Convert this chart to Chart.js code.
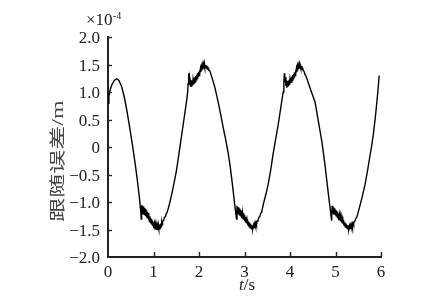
<!DOCTYPE html>
<html><head><meta charset="utf-8">
<script src="https://cdn.jsdelivr.net/npm/chart.js@4"></script>
<style>html,body{margin:0;padding:0;background:#fff;} canvas{display:block;}</style>
</head><body>
<canvas id="c" width="443" height="296"></canvas>
<script>
// tick labels
const xTicks = [0, 1, 2, 3, 4, 5, 6];
const yTicks = [-2.0, -1.5, -1.0, -0.5, 0, 0.5, 1.0, 1.5, 2.0];
// tracking error (unit: 1e-4 m) vs time t (s), [t, value]
const segStart = [[0.00,0.80],[0.02,0.92],[0.05,1.05],[0.09,1.14],[0.14,1.21],[0.19,1.24],[0.24,1.21],[0.30,1.10],[0.36,0.90],[0.42,0.64],[0.48,0.34],[0.54,0.02],[0.60,-0.32],[0.65,-0.64],[0.69,-0.92],[0.72,-1.18],[0.73,-1.31]];
const bandA = [[0.740,-1.06],[0.750,-1.20],[0.760,-1.07],[0.770,-1.21],[0.780,-1.08],[0.790,-1.22],[0.800,-1.11],[0.810,-1.24],[0.820,-1.13],[0.830,-1.26],[0.840,-1.15],[0.850,-1.28],[0.860,-1.18],[0.870,-1.30],[0.880,-1.20],[0.890,-1.32],[0.900,-1.23],[0.910,-1.35],[0.920,-1.26],[0.930,-1.37],[0.940,-1.29],[0.950,-1.39],[0.960,-1.31],[0.970,-1.41],[0.980,-1.34],[0.990,-1.43],[1.000,-1.37],[1.010,-1.46],[1.020,-1.39],[1.030,-1.48],[1.040,-1.41],[1.050,-1.50],[1.060,-1.43],[1.070,-1.51],[1.080,-1.44],[1.090,-1.51],[1.100,-1.44],[1.110,-1.50],[1.120,-1.43],[1.130,-1.49],[1.140,-1.41],[1.150,-1.47],[1.160,-1.39],[1.170,-1.44],[1.180,-1.37],[1.190,-1.41],[1.200,-1.35],[1.220,-1.34],[1.240,-1.28],[1.260,-1.27],[1.280,-1.21],[1.300,-1.19]];
const riseA = [[1.35,-1.04],[1.40,-0.86],[1.45,-0.66],[1.50,-0.45],[1.56,-0.12],[1.62,0.22],[1.66,0.45],[1.70,0.68],[1.735,0.88],[1.75,1.00],[1.76,1.15],[1.765,1.34]];
const bandB = [[1.770,1.26],[1.775,1.30],[1.780,1.18],[1.790,1.27],[1.800,1.12],[1.810,1.22],[1.820,1.09],[1.830,1.20],[1.840,1.10],[1.850,1.21],[1.860,1.12],[1.870,1.23],[1.880,1.14],[1.890,1.25],[1.900,1.17],[1.910,1.27],[1.920,1.19],[1.930,1.29],[1.940,1.22],[1.950,1.32],[1.960,1.25],[1.970,1.34],[1.980,1.28],[1.990,1.37],[2.000,1.30],[2.010,1.39],[2.020,1.33],[2.030,1.42],[2.040,1.36],[2.050,1.44],[2.060,1.39],[2.070,1.47],[2.080,1.41],[2.090,1.49],[2.100,1.43],[2.110,1.50],[2.120,1.44],[2.130,1.50],[2.140,1.44],[2.150,1.49],[2.160,1.44],[2.170,1.48],[2.180,1.42],[2.190,1.46],[2.200,1.41],[2.210,1.44],[2.220,1.39],[2.240,1.38],[2.260,1.33]];
const fallB = [[2.30,1.22],[2.35,1.08],[2.42,0.82],[2.48,0.58],[2.53,0.36],[2.58,0.16],[2.64,-0.10],[2.69,-0.38],[2.74,-0.72],[2.79,-1.08],[2.825,-1.31]];
const bandC = [[2.835,-1.07],[2.845,-1.20],[2.855,-1.09],[2.865,-1.21],[2.875,-1.10],[2.885,-1.23],[2.895,-1.12],[2.905,-1.24],[2.915,-1.14],[2.925,-1.26],[2.935,-1.16],[2.945,-1.28],[2.955,-1.19],[2.965,-1.30],[2.975,-1.21],[2.985,-1.32],[2.995,-1.24],[3.005,-1.35],[3.015,-1.27],[3.025,-1.37],[3.035,-1.29],[3.045,-1.39],[3.055,-1.32],[3.065,-1.41],[3.075,-1.34],[3.085,-1.43],[3.095,-1.36],[3.105,-1.45],[3.115,-1.38],[3.125,-1.47],[3.135,-1.40],[3.145,-1.48],[3.155,-1.42],[3.165,-1.49],[3.175,-1.43],[3.185,-1.49],[3.195,-1.43],[3.205,-1.48],[3.215,-1.42],[3.225,-1.47],[3.235,-1.40],[3.245,-1.44],[3.255,-1.38],[3.265,-1.41],[3.275,-1.35],[3.295,-1.33],[3.315,-1.28],[3.335,-1.27],[3.355,-1.21],[3.375,-1.19]];
const riseC = [[3.42,-1.02],[3.47,-0.86],[3.52,-0.68],[3.57,-0.45],[3.63,-0.12],[3.68,0.12],[3.74,0.40],[3.78,0.62],[3.82,0.84],[3.85,1.00],[3.865,1.15],[3.875,1.34]];
const bandD = [[3.880,1.26],[3.885,1.30],[3.890,1.18],[3.900,1.27],[3.910,1.11],[3.920,1.21],[3.930,1.08],[3.940,1.19],[3.950,1.09],[3.960,1.20],[3.970,1.11],[3.980,1.22],[3.990,1.13],[4.000,1.24],[4.010,1.16],[4.020,1.26],[4.030,1.18],[4.040,1.28],[4.050,1.21],[4.060,1.31],[4.070,1.24],[4.080,1.33],[4.090,1.27],[4.100,1.36],[4.110,1.30],[4.120,1.39],[4.130,1.33],[4.140,1.42],[4.150,1.36],[4.160,1.45],[4.170,1.39],[4.180,1.47],[4.190,1.42],[4.200,1.49],[4.210,1.43],[4.220,1.50],[4.230,1.44],[4.240,1.49],[4.250,1.42],[4.260,1.47],[4.270,1.41],[4.280,1.44],[4.290,1.39],[4.310,1.37],[4.330,1.32]];
const fallD = [[4.37,1.25],[4.45,1.05],[4.55,0.82],[4.60,0.58],[4.65,0.34],[4.70,0.10],[4.73,-0.08],[4.78,-0.40],[4.83,-0.76],[4.88,-1.10],[4.915,-1.34]];
const bandE = [[4.925,-1.07],[4.935,-1.20],[4.945,-1.09],[4.955,-1.21],[4.965,-1.10],[4.975,-1.22],[4.985,-1.12],[4.995,-1.23],[5.005,-1.14],[5.015,-1.25],[5.025,-1.16],[5.035,-1.27],[5.045,-1.18],[5.055,-1.29],[5.065,-1.21],[5.075,-1.31],[5.085,-1.23],[5.095,-1.33],[5.105,-1.26],[5.115,-1.35],[5.125,-1.28],[5.135,-1.37],[5.145,-1.31],[5.155,-1.39],[5.165,-1.33],[5.175,-1.41],[5.185,-1.35],[5.195,-1.43],[5.205,-1.37],[5.215,-1.45],[5.225,-1.39],[5.235,-1.46],[5.245,-1.41],[5.255,-1.48],[5.265,-1.42],[5.275,-1.49],[5.285,-1.43],[5.295,-1.50],[5.305,-1.44],[5.315,-1.50],[5.325,-1.44],[5.335,-1.49],[5.345,-1.43],[5.355,-1.47],[5.365,-1.41],[5.375,-1.45],[5.385,-1.39],[5.395,-1.42],[5.405,-1.37],[5.425,-1.35],[5.445,-1.30],[5.465,-1.28],[5.485,-1.23]];
const riseE = [[5.52,-1.12],[5.58,-0.93],[5.65,-0.68],[5.70,-0.45],[5.75,-0.20],[5.80,0.05],[5.83,0.22],[5.87,0.50],[5.90,0.74],[5.93,1.00],[5.96,1.30]];

const trace = [].concat(segStart, bandA, riseA, bandB, fallB, bandC, riseC, bandD, fallD, bandE, riseE);
const SERIF = "'Liberation Serif','Times New Roman',serif";
const INK = '#222';

const decor = {
  id: 'decor',
  afterDraw(chart) {
    const ctx = chart.ctx, xs = chart.scales.x, ys = chart.scales.y, a = chart.chartArea;
    ctx.save();
    ctx.strokeStyle = INK; ctx.lineWidth = 1.4;
    xTicks.forEach(v => {
      if (v === 0) return;
      const px = Math.round(xs.getPixelForValue(v)) + 0.5;
      ctx.beginPath(); ctx.moveTo(px, a.bottom); ctx.lineTo(px, a.bottom - 5); ctx.stroke();
    });
    yTicks.forEach(v => {
      if (v === -2) return;
      const py = Math.round(ys.getPixelForValue(v)) + 0.5;
      ctx.beginPath(); ctx.moveTo(a.left, py); ctx.lineTo(a.left + 4, py); ctx.stroke();
    });
    ctx.fillStyle = INK;
    ctx.textAlign = 'left'; ctx.textBaseline = 'alphabetic';
    ctx.font = '17px ' + SERIF;
    ctx.fillText('\u00d710', 86, 25);
    ctx.font = '10px ' + SERIF;
    ctx.fillText('-4', 113, 19);
    // x title: italic t + /s
    ctx.font = 'italic 17px ' + SERIF;
    const wt = ctx.measureText('t').width;
    ctx.font = '17px ' + SERIF;
    const ws = ctx.measureText('/s').width;
    const cx = 247, x0 = cx - (wt + ws) / 2;
    ctx.font = 'italic 17px ' + SERIF;
    ctx.fillText('t', x0, 290);
    ctx.font = '17px ' + SERIF;
    ctx.fillText('/s', x0 + wt, 290);
    // y title
    ctx.translate(59, 161);
    ctx.rotate(-Math.PI / 2);
    ctx.scale(1, 0.68);
    ctx.font = "24px 'Liberation Serif','Noto Sans CJK SC',serif";
    ctx.textAlign = 'center'; ctx.textBaseline = 'middle';
    ctx.fillStyle = '#444';
    ctx.fillText('跟随误差/m', 0, 0);
    ctx.restore();
  }
};

new Chart(document.getElementById('c'), {
  type: 'line',
  data: { datasets: [{
    data: trace.map(p => ({ x: p[0], y: p[1] })),
    borderColor: '#000', borderWidth: 1.4, pointRadius: 0, tension: 0, fill: false
  }]},
  options: {
    responsive: false, animation: false, events: [],
    layout: { padding: { left: 0, top: 37, right: 62, bottom: 0 } },
    plugins: { legend: { display: false }, tooltip: { enabled: false } },
    scales: {
      x: {
        type: 'linear', min: 0, max: 6,
        afterBuildTicks(s) { s.ticks = xTicks.map(v => ({ value: v })); },
        afterFit(s) { s.height = 39; },
        grid: { display: false, drawTicks: false },
        border: { display: true, color: INK, width: 2 },
        ticks: { padding: 5, color: INK, maxRotation: 0, autoSkip: false, font: { family: SERIF, size: 17 }, callback: v => String(v) }
      },
      y: {
        type: 'linear', min: -2, max: 2,
        afterBuildTicks(s) { s.ticks = yTicks.map(v => ({ value: v })); },
        afterFit(s) { s.width = 108; },
        grid: { display: false, drawTicks: false },
        border: { display: true, color: INK, width: 2 },
        ticks: { padding: 8, labelOffset: 2, color: INK, autoSkip: false, font: { family: SERIF, size: 17 },
          callback: v => v === 0 ? '0' : (v < 0 ? '\u2212' : '') + Math.abs(v).toFixed(1) }
      }
    }
  },
  plugins: [decor]
});
</script>
</body></html>
